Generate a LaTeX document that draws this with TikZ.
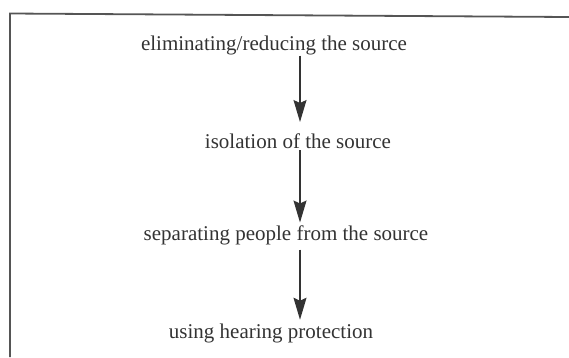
\documentclass[tikz,border=0pt]{standalone}
\usepackage{fontspec}
\setmainfont{Liberation Serif}
\usetikzlibrary{arrows.meta}
\definecolor{ink}{HTML}{333333}
\definecolor{framec}{HTML}{555555}
\tikzset{
  label/.style={font=\fontsize{21}{24}\selectfont, text=ink, inner sep=0pt, anchor=base},
  arr/.style={draw=ink, line width=1.3pt, -{Stealth[length=22pt,width=13pt,inset=3pt]}},
  framel/.style={draw=framec, line width=1.8pt}
}
\begin{document}
\begin{tikzpicture}[x=1pt,y=-1pt]
\useasboundingbox (0,0) rectangle (569,357);
\draw[framel] (10,357) -- (10,13.5) -- (569,17);
\node[label] (t1) at (274,50) {eliminating/reducing the source};
\node[label] (t2) at (298,148) {isolation of the source};
\node[label] (t3) at (286,240) {separating people from the source};
\node[label] (t4) at (271,338) {using hearing protection};
\coordinate (ax) at (300,0);
\draw[arr, shorten <=1pt, shorten >=11pt] (t1.south -| ax) -- (t2.north -| ax);
\draw[arr, shorten <=2pt, shorten >=2.5pt] (t2.south -| ax) -- (t3.north -| ax);
\draw[arr, shorten <=5pt, shorten >=3.5pt] (t3.south -| ax) -- (t4.north -| ax);
\end{tikzpicture}
\end{document}
